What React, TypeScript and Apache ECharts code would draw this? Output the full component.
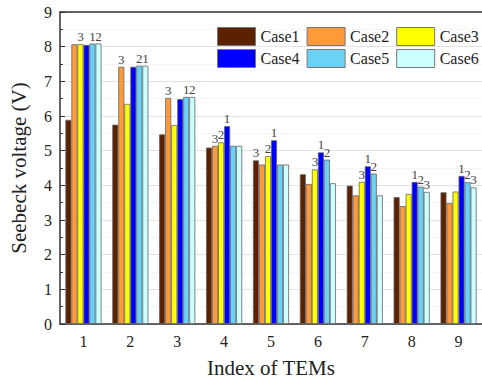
import React, { useEffect, useRef } from "react";
import * as echarts from "echarts";

const categories = ["1", "2", "3", "4", "5", "6", "7", "8", "9"];
const caseNames = ["Case1", "Case2", "Case3", "Case4", "Case5", "Case6"];
const caseColors = ["#5c2200", "#ff9a3a", "#ffff00", "#0000ff", "#6ad2f7", "#ccffff"];

const case1 = [5.89, 5.75, 5.47, 5.09, 4.72, 4.32, 3.99, 3.66, 3.8];
const case2 = [8.07, 7.42, 6.52, 5.14, 4.6, 4.04, 3.71, 3.4, 3.49];
const case3 = [8.07, 6.35, 5.74, 5.24, 4.84, 4.46, 4.1, 3.75, 3.82];
const case4 = [8.05, 7.42, 6.49, 5.71, 5.3, 4.95, 4.55, 4.1, 4.27];
const case5 = [8.09, 7.45, 6.55, 5.14, 4.6, 4.74, 4.34, 3.96, 4.09];
const case6 = [8.09, 7.45, 6.55, 5.14, 4.6, 4.06, 3.71, 3.81, 3.94];

// Case numbers holding ranks 1, 2 and 3 in each TEM
const rankedCases = [
  [5, 6, 3],
  [6, 5, 2],
  [5, 6, 2],
  [4, 3, 2],
  [4, 3, 1],
  [4, 5, 3],
  [4, 5, 3],
  [4, 5, 6],
  [4, 5, 6],
];

const seriesValues = [case1, case2, case3, case4, case5, case6];
const FONT = "'Liberation Serif', 'Times New Roman', serif";

export default function App() {
  const ref = useRef<HTMLDivElement>(null);

  useEffect(() => {
    if (!ref.current) return;
    const chart = echarts.init(ref.current, null, { renderer: "svg" });

    const series = seriesValues.map((vals, si) => ({
      name: caseNames[si],
      type: "bar",
      barGap: "0%",
      barCategoryGap: "23%",
      itemStyle: { color: caseColors[si], borderColor: "#666", borderWidth: 0.8 },
      data: vals.map((v, ci) => {
        const rank = rankedCases[ci].indexOf(si + 1);
        return rank >= 0
          ? {
              value: v,
              label: {
                show: true,
                position: "top",
                distance: 1,
                formatter: String(rank + 1),
                fontFamily: FONT,
                fontSize: 13,
                color: "#444",
              },
            }
          : v;
      }),
    }));

    const legendCommon = {
      orient: "horizontal",
      icon: "rect",
      itemWidth: 38,
      itemHeight: 18,
      itemGap: 7,
      itemTextGap: 4,
      width: 420,
      itemStyle: { borderColor: "#777", borderWidth: 1 },
      textStyle: { fontFamily: FONT, fontSize: 16, color: "#222", padding: [0, 0, 0, 0] },
      padding: 0,
    };

    chart.setOption({
      animation: false,
      backgroundColor: "#fff",
      legend: [
        { ...legendCommon, left: 217, top: 27, data: caseNames.slice(0, 3) },
        { ...legendCommon, left: 217, top: 49, data: caseNames.slice(3, 6) },
      ],
      grid: { left: 55, top: 12, width: 433, height: 318 },
      xAxis: [
        {
          type: "category",
          data: categories,
          name: "Index of TEMs",
          nameLocation: "middle",
          nameGap: 33,
          nameTextStyle: { fontFamily: FONT, fontSize: 21, color: "#222" },
          axisLine: { lineStyle: { color: "#333", width: 1.5 } },
          axisTick: { show: false },
          axisLabel: { fontFamily: FONT, fontSize: 16, color: "#222", margin: 9 },
        },
        {
          type: "category",
          position: "top",
          data: categories,
          axisLine: { lineStyle: { color: "#333", width: 1.5 } },
          axisTick: { show: false },
          axisLabel: { show: false },
        },
      ],
      yAxis: {
        type: "value",
        min: 0,
        max: 9,
        interval: 1,
        name: "Seebeck voltage (V)",
        nameLocation: "middle",
        nameGap: 31,
        nameTextStyle: { fontFamily: FONT, fontSize: 21, color: "#222" },
        axisLine: { show: true, lineStyle: { color: "#333", width: 1.5 } },
        axisTick: { show: true, inside: true, length: 5, lineStyle: { color: "#333" } },
        minorTick: { show: true, splitNumber: 2, length: 3, lineStyle: { color: "#333" } },
        axisLabel: { fontFamily: FONT, fontSize: 16, color: "#222", margin: 8 },
        splitLine: { show: true, lineStyle: { color: "#e2e2e2", width: 1 } },
        minorSplitLine: { show: true, lineStyle: { color: "#ececec", width: 1, type: "dotted" } },
      },
      series,
    });

    return () => chart.dispose();
  }, []);

  return (
    <div
      ref={ref}
      style={{ position: "fixed", left: 0, top: 0, width: 482, height: 383 }}
    />
  );
}
